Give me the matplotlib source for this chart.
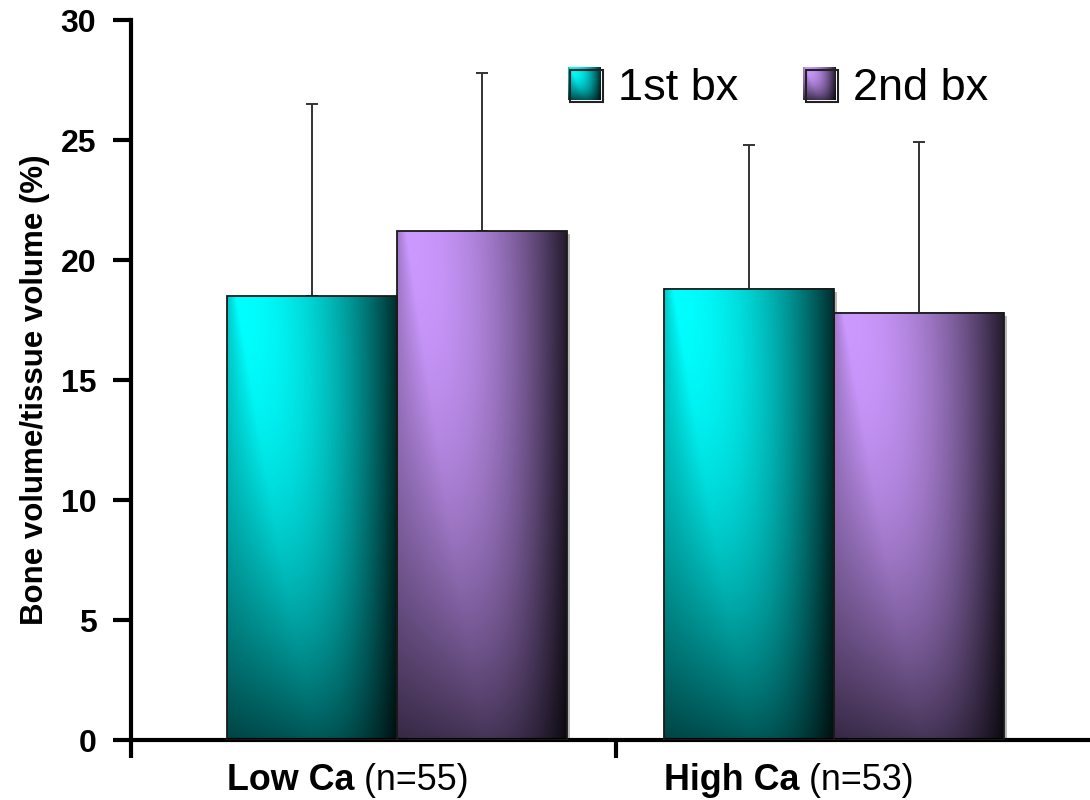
import numpy as np
import matplotlib
matplotlib.use("Agg")
import matplotlib.pyplot as plt
from matplotlib.patches import Rectangle
from matplotlib.legend_handler import HandlerBase
from matplotlib.image import BboxImage
from matplotlib.transforms import Bbox, TransformedBbox, offset_copy

# ---- data ----
groups = ["Low Ca", "High Ca"]
group_n = ["(n=55)", "(n=53)"]
series = ["1st bx", "2nd bx"]
first_mean = [18.5, 18.8]
first_sd = [8.0, 6.0]
second_mean = [21.2, 17.8]
second_sd = [6.6, 7.1]
y_ticks = [0, 5, 10, 15, 20, 25, 30]

CYAN = np.array([0, 255, 255]) / 255
PURPLE = np.array([204, 153, 255]) / 255

plt.rcParams["font.family"] = ["Liberation Sans", "DejaVu Sans"]


def shading(nx=120, ny=240):
    """Diagonal light falloff: bright top-left, dark right and bottom."""
    u = np.linspace(0, 1, nx)[None, :]
    v = np.linspace(0, 1, ny)[:, None]
    p = 0.05 + 0.45 * v
    d = u - p
    h = np.where(d < 0,
                 1 - 0.22 * np.clip(-d / p, 0, 1),
                 1 - 0.82 * np.clip(d / (1 - p), 0, 1) ** 2.0)
    vert = 1 - 0.66 * v ** 1.9
    return h * vert


def gradient_rgb(base, nx=120, ny=240):
    return np.clip(shading(nx, ny)[..., None] * base[None, None, :], 0, 1)


class GradientSquare(HandlerBase):
    def __init__(self, base):
        super().__init__()
        self.base = base

    def create_artists(self, legend, orig_handle, xdescent, ydescent,
                       width, height, fontsize, trans):
        x0, y0 = -xdescent, -ydescent
        bb = TransformedBbox(Bbox.from_bounds(x0, y0, width, height), trans)
        img = BboxImage(bb, interpolation="bilinear")
        img.set_data(gradient_rgb(self.base, 40, 40))
        frame = Rectangle((x0 + 1.5, y0 - 1.5), width, height, fill=False,
                          edgecolor="#222222", lw=1.5, transform=trans)
        return [img, frame]


fig = plt.figure(figsize=(10.9, 8), dpi=100)
ax = fig.add_axes([131 / 1090, 60 / 800, 959 / 1090, 720 / 800])

x = np.arange(len(groups))
w = 0.389
xlim = (-0.6087, 1.5858)

for offs, means, sds, base in [(-w / 2, first_mean, first_sd, CYAN),
                               (w / 2, second_mean, second_sd, PURPLE)]:
    bars = ax.bar(x + offs, means, w, facecolor="none", edgecolor="#1a1a1a",
                  lw=1.3, zorder=3)
    for rect in bars:
        l = rect.get_x()
        r = l + rect.get_width()
        t = rect.get_height()
        ax.imshow(gradient_rgb(base), extent=(l, r, 0, t), origin="upper",
                  aspect="auto", interpolation="bilinear", zorder=2)
        sh = Rectangle((l, 0), rect.get_width(), t, facecolor="#b8b8b8",
                       edgecolor="none", zorder=1.5,
                       transform=offset_copy(ax.transData, fig, x=3, y=-3,
                                             units="dots"))
        ax.add_patch(sh)
    ax.errorbar(x + offs, means, yerr=[np.zeros(len(sds)), sds], fmt="none",
                ecolor="#333333", elinewidth=1.4, capsize=4, capthick=1.4,
                zorder=1)

ax.set_xlim(*xlim)
ax.set_ylim(0, 30)

for s in ("top", "right"):
    ax.spines[s].set_visible(False)
for s in ("left", "bottom"):
    ax.spines[s].set_linewidth(3)
    ax.spines[s].set_color("black")

ax.set_yticks(y_ticks)
ax.set_yticklabels([str(v) for v in y_ticks], fontsize=23, fontweight="bold")
ax.set_xticks([xlim[0], 0.5])
ax.set_xticklabels([])
ax.tick_params(axis="both", direction="out", length=13, width=3,
               color="black")
ax.tick_params(axis="y", pad=12)

ax.set_ylabel("Bone volume/tissue volume (%)", fontsize=22.5,
              fontweight="bold")
ax.yaxis.set_label_coords(-0.0845, 0.486)

for i, (g, n) in enumerate(zip(groups, group_n)):
    t = ax.annotate(g, xy=(x[i] - w, -0.0556),
                    xycoords=("data", "axes fraction"), ha="left",
                    va="center", fontsize=25.8, fontweight="bold",
                    annotation_clip=False)
    ax.annotate(" " + n, xy=(1, 0), xycoords=t, ha="left", va="bottom",
                fontsize=25.8, annotation_clip=False)

h1 = Rectangle((0, 0), 1, 1)
h2 = Rectangle((0, 0), 1, 1)
ax.legend([h1, h2], series,
          handler_map={h1: GradientSquare(CYAN), h2: GradientSquare(PURPLE)},
          ncol=2, frameon=False, loc="center left",
          bbox_to_anchor=(568 / 1090, 1 - 88 / 800),
          bbox_transform=fig.transFigure, borderpad=0, borderaxespad=0,
          handlelength=0.72, handleheight=0.72, handletextpad=0.38,
          columnspacing=1.45, prop={"family": "Liberation Sans", "size": 32.5})

fig.savefig("out.png", dpi=100)
